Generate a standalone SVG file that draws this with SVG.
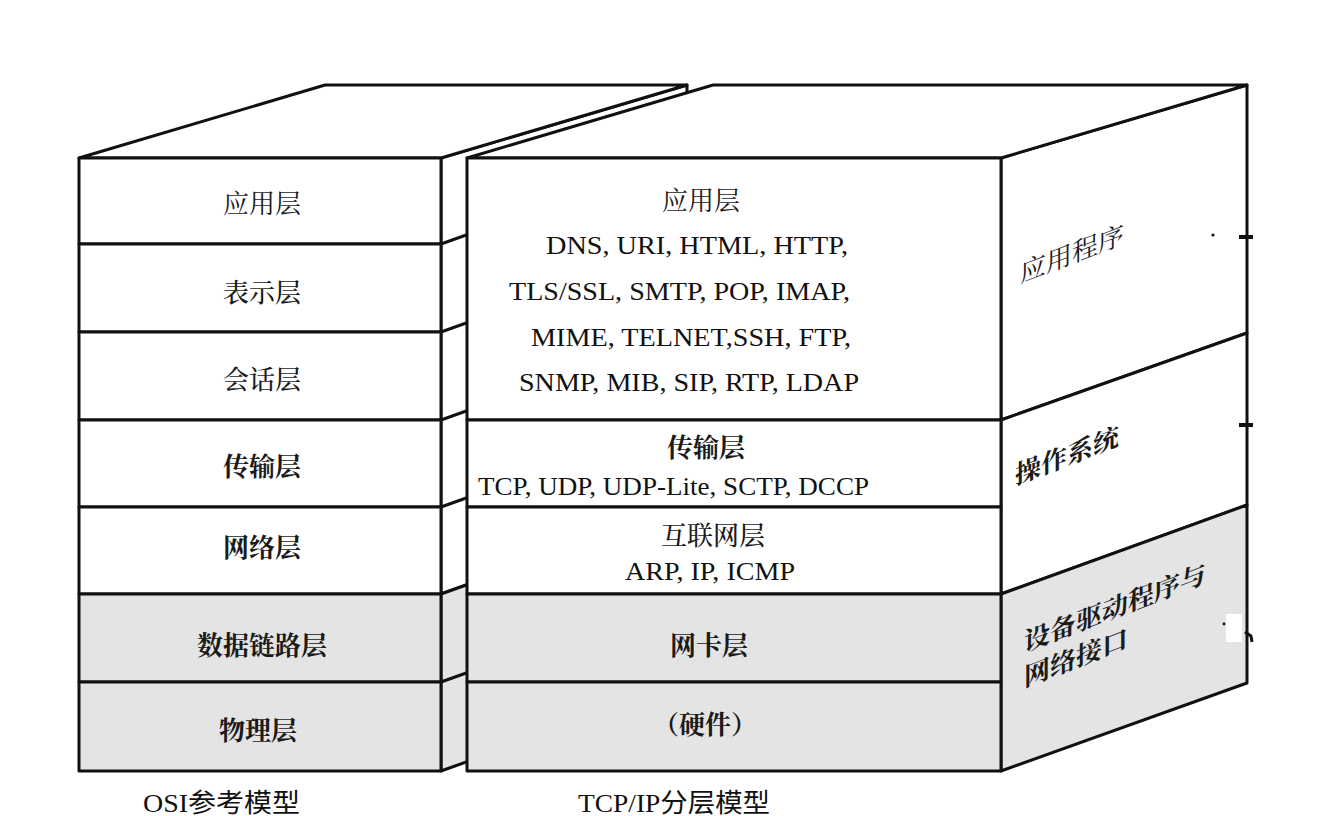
<svg xmlns="http://www.w3.org/2000/svg" width="1325" height="816" viewBox="0 0 1325 816">
<style>
.ln{stroke:#111;stroke-width:3;stroke-linejoin:round;fill:none}
.w{fill:#ffffff;stroke:#111;stroke-width:3;stroke-linejoin:round}
.g{fill:#e4e4e4;stroke:#111;stroke-width:3;stroke-linejoin:round}
.cj{font-family:'Noto Serif CJK SC','Noto Sans CJK SC',sans-serif;font-size:26px;fill:#1a1a1a;text-anchor:middle}
.b{font-weight:700}
.m{font-weight:500}
.en{font-family:'Liberation Serif','Times New Roman',serif;font-size:26px;fill:#111;text-anchor:start}
.cap{font-family:'Liberation Serif','Noto Sans CJK SC',serif;font-size:26px;fill:#111}
.side{font-family:'Noto Serif CJK SC','Noto Sans CJK SC',sans-serif;font-size:26px;fill:#1a1a1a}
</style>
<rect width="1325" height="816" fill="#ffffff"/>

<g id="osi-box">
  <polygon class="w" points="441,158 687,85 687,506 441,594"/>
  <polygon class="g" points="441,594 687,506 687,683 441,771"/>
  <line class="ln" x1="441" y1="244" x2="687" y2="156"/>
  <line class="ln" x1="441" y1="332" x2="687" y2="244"/>
  <line class="ln" x1="441" y1="420" x2="687" y2="332"/>
  <line class="ln" x1="441" y1="507" x2="687" y2="419"/>
  <line class="ln" x1="441" y1="682" x2="687" y2="594"/>
  <polygon class="w" points="79,158 325,85 687,85 441,158"/>
  <rect class="w" x="79" y="158" width="362" height="86"/>
  <rect class="w" x="79" y="244" width="362" height="88"/>
  <rect class="w" x="79" y="332" width="362" height="88"/>
  <rect class="w" x="79" y="420" width="362" height="87"/>
  <rect class="w" x="79" y="507" width="362" height="87"/>
  <rect class="g" x="79" y="594" width="362" height="88"/>
  <rect class="g" x="79" y="682" width="362" height="89"/>
</g>

<g id="osi-labels">
  <text class="cj" x="262" y="213">应用层</text>
  <text class="cj m" x="262" y="302">表示层</text>
  <text class="cj m" x="262" y="389">会话层</text>
  <text class="cj b" x="262" y="476">传输层</text>
  <text class="cj b" x="262" y="557">网络层</text>
  <text class="cj b" x="262" y="655">数据链路层</text>
  <text class="cj b" x="258" y="740">物理层</text>
</g>

<g id="tcpip-box">
  <polygon class="w" points="1001,158 1247,85 1247,333 1001,420"/>
  <polygon class="w" points="1001,420 1247,333 1247,505 1001,594"/>
  <polygon class="g" points="1001,594 1247,505 1247,683 1001,771"/>
  <polygon class="w" points="467,158 713,85 1247,85 1001,158"/>
  <rect class="w" x="467" y="158" width="534" height="262"/>
  <rect class="w" x="467" y="420" width="534" height="87"/>
  <rect class="w" x="467" y="507" width="534" height="87"/>
  <rect class="g" x="467" y="594" width="534" height="88"/>
  <rect class="g" x="467" y="682" width="534" height="89"/>
</g>

<g id="tcpip-labels">
  <text class="cj" x="701" y="210">应用层</text>
  <text class="en" x="546" y="254" textLength="302" lengthAdjust="spacingAndGlyphs">DNS, URI, HTML, HTTP,</text>
  <text class="en" x="509" y="300" textLength="341" lengthAdjust="spacingAndGlyphs">TLS/SSL, SMTP, POP, IMAP,</text>
  <text class="en" x="531" y="346" textLength="320" lengthAdjust="spacingAndGlyphs">MIME, TELNET,SSH, FTP,</text>
  <text class="en" x="519" y="391" textLength="340" lengthAdjust="spacingAndGlyphs">SNMP, MIB, SIP, RTP, LDAP</text>
  <text class="cj b" x="706" y="457">传输层</text>
  <text class="en" x="478" y="495" textLength="391" lengthAdjust="spacingAndGlyphs">TCP, UDP, UDP-Lite, SCTP, DCCP</text>
  <text class="cj m" x="713" y="545">互联网层</text>
  <text class="en" x="625" y="580" textLength="170" lengthAdjust="spacingAndGlyphs">ARP, IP, ICMP</text>
  <text class="cj b" x="709" y="655">网卡层</text>
  <text class="cj b" x="705" y="734">（硬件）</text>
</g>

<g id="side-labels">
  <text class="side" transform="translate(1020,283) skewY(-21)" x="0" y="0">应用程序</text>
  <text class="side b" transform="translate(1015,485) skewY(-21)" x="0" y="0">操作系统</text>
  <text class="side b" transform="translate(1024,652) skewY(-21)" x="0" y="0">设备驱动程序与</text>
  <text class="side b" transform="translate(1024,687) skewY(-21)" x="0" y="0">网络接口</text>
</g>

<g id="connectors">
  <line x1="1239" y1="237" x2="1253" y2="237" stroke="#111" stroke-width="4"/>
  <line x1="1239" y1="425" x2="1253" y2="425" stroke="#111" stroke-width="4"/>
  <circle cx="1213" cy="235" r="1.6" fill="#111"/>
  <rect x="1226" y="614" width="16" height="28" fill="#ffffff"/>
  <circle cx="1224" cy="624" r="1.4" fill="#111"/>
  <path d="M1245,632 L1251,636 L1252,642" class="ln"/>
</g>

<g id="captions">
  <text class="cap" x="143" y="812" textLength="157" lengthAdjust="spacingAndGlyphs">OSI参考模型</text>
  <text class="cap" x="578" y="812" textLength="192" lengthAdjust="spacingAndGlyphs">TCP/IP分层模型</text>
</g>
</svg>
